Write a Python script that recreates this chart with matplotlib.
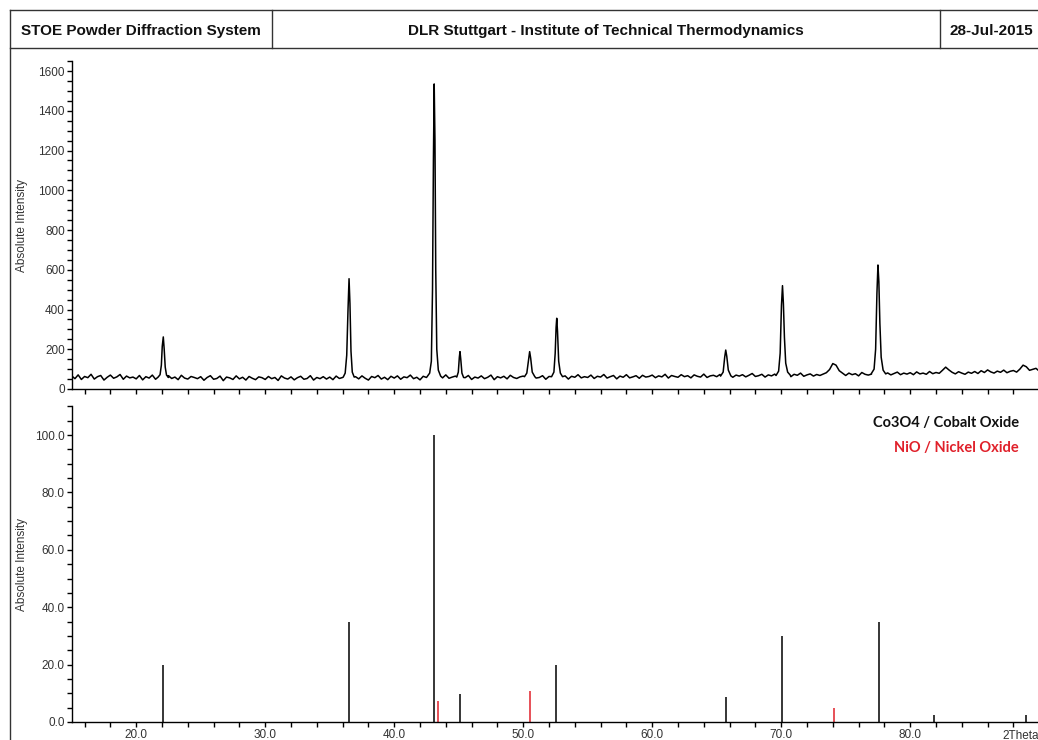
from matplotlib import pyplot as plt
from matplotlib.lines import Line2D
from matplotlib.ticker import MultipleLocator, FormatStrFormatter
import numpy as np

plt.rcParams['font.family'] = ['Liberation Sans', 'DejaVu Sans']

# measured pattern: background read every 0.25 deg from 15 to 91
bg_start, bg_step = 15.0, 0.25
bg_counts = [
    66, 52, 71, 48, 63, 57, 74, 50, 62, 68, 45, 59, 70, 54, 61, 73, 49, 65, 56, 60,  # 15
    51, 68, 46, 62, 55, 70, 49, 58, 64, 44, 67, 53, 60, 47, 69, 55, 50, 63, 58, 52,  # 20
    62, 44, 58, 67, 49, 53, 65, 42, 60, 56, 48, 66, 51, 59, 45, 63, 54, 47, 61, 57,  # 25
    48, 63, 52, 58, 43, 66, 55, 50, 61, 46, 57, 64, 49, 53, 67, 45, 58, 52, 62, 50,  # 30
    60, 47, 65, 53, 58, 69, 48, 56, 62, 51, 66, 54, 45, 63, 57, 68, 50, 59, 47, 64,  # 35
    55, 66, 49, 61, 57, 70, 52, 59, 46, 64, 58, 53, 67, 50, 62, 56, 71, 54, 60, 65,  # 40
    50, 63, 57, 68, 48, 60, 55, 66, 52, 59, 70, 47, 62, 56, 64, 51, 69, 58, 53, 61,  # 45
    65, 52, 60, 71, 55, 58, 67, 49, 63, 57, 70, 54, 61, 66, 50, 64, 59, 72, 56, 62,  # 50
    58, 70, 53, 64, 60, 73, 55, 62, 68, 51, 65, 59, 72, 56, 61, 67, 54, 69, 60, 63,  # 55
    70, 57, 66, 61, 74, 55, 68, 63, 59, 72, 62, 67, 56, 71, 64, 60, 75, 58, 66, 69,  # 60
    62, 73, 60, 68, 76, 59, 70, 65, 72, 61, 69, 78, 63, 67, 74, 60, 71, 66, 75, 64,  # 65
    72, 66, 78, 62, 74, 69, 80, 64, 71, 76, 65, 73, 68, 75, 82, 98, 128, 120, 92, 80,  # 70
    68, 80, 72, 77, 66, 83, 74, 70, 79, 73, 84, 69, 76, 81, 71, 78, 85, 72, 80, 75,  # 75
    82, 72, 86, 76, 80, 74, 88, 77, 83, 79, 94, 110, 96, 84, 76, 87, 80, 74, 85, 79,  # 80
    88, 78, 92, 83, 96, 86, 80, 90, 84, 95, 82, 89, 93, 85, 100, 120, 112, 94, 99, 104,  # 85
    90, 98, 88, 96, 93,  # 90
]

# reflections in the measured pattern (2theta, counts)
peak_2theta = [
    [21.7, 21.85, 21.95, 22.02, 22.1, 22.17, 22.25, 22.35, 22.5],
    [36.05, 36.2, 36.32, 36.42, 36.5, 36.57, 36.65, 36.75, 36.9],
    [42.55, 42.75, 42.88, 42.97, 43.04, 43.1, 43.16, 43.22, 43.3, 43.42, 43.6],
    [44.85, 44.97, 45.05, 45.1, 45.16, 45.25, 45.38],
    [50.1, 50.28, 50.4, 50.5, 50.58, 50.7, 50.9],
    [52.2, 52.38, 52.48, 52.55, 52.6, 52.66, 52.75, 52.88, 53.05],
    [65.3, 65.5, 65.62, 65.7, 65.78, 65.9, 66.1],
    [69.6, 69.8, 69.92, 70.02, 70.1, 70.17, 70.25, 70.35, 70.5, 70.7],
    [77.0, 77.2, 77.32, 77.42, 77.5, 77.57, 77.65, 77.75, 77.9, 78.1],
]
peak_counts = [
    [60, 72, 120, 215, 262, 200, 110, 70, 58],
    [60, 80, 170, 400, 555, 430, 190, 85, 60],
    [62, 80, 140, 500, 1150, 1535, 1250, 600, 200, 95, 65],
    [60, 85, 160, 188, 150, 80, 58],
    [62, 80, 140, 188, 155, 85, 62],
    [62, 85, 180, 310, 356, 290, 140, 80, 62],
    [65, 85, 160, 196, 165, 95, 66],
    [68, 90, 180, 420, 520, 430, 260, 130, 85, 70],
    [75, 100, 200, 480, 624, 540, 330, 160, 95, 76],
]

# reference patterns (relative intensity)
co3o4_2theta = [22.1, 36.5, 43.07, 45.07, 52.58, 65.7, 70.1, 77.55, 81.85, 89.0]
co3o4_int = [19.8, 35.0, 100.0, 9.6, 19.8, 8.6, 30.0, 35.0, 2.4, 2.4]
nio_2theta = [43.36, 50.52, 74.12]
nio_int = [7.3, 10.9, 5.0]

header = ['STOE Powder Diffraction System',
          'DLR Stuttgart - Institute of Technical Thermodynamics',
          '28-Jul-2015']

# build the measured curve
bg_x = bg_start + bg_step * np.arange(len(bg_counts))
bg_y = np.array(bg_counts, dtype=float)
keep = np.ones(len(bg_x), dtype=bool)
for px in peak_2theta:
    keep &= ~((bg_x > px[0]) & (bg_x < px[-1]))
xs = np.concatenate([bg_x[keep]] + [np.array(p) for p in peak_2theta])
ys = np.concatenate([bg_y[keep]] + [np.array(c, dtype=float) for c in peak_counts])
order = np.argsort(xs)
xs, ys = xs[order], ys[order]

W, H = 1038, 740
fig = plt.figure(figsize=(W / 100, H / 100), dpi=100)


def fx(px):
    return px / W


def fy(py):
    return 1 - py / H


x0, x1 = 15, 91
left = fx(71.7)
width = (x1 - x0) * 12.9 / W

ax1 = fig.add_axes([left, fy(389), width, (389 - 61.1) / H])
ax2 = fig.add_axes([left, fy(722), width, (722 - 406.3) / H])

ax1.plot(xs, ys, color='black', lw=1.1)
ax1.set_ylim(0, 1650)
ax1.yaxis.set_major_locator(MultipleLocator(200))
ax1.yaxis.set_minor_locator(MultipleLocator(50))

ax2.vlines(co3o4_2theta, 0, co3o4_int, color='black', lw=1.1)
ax2.vlines(nio_2theta, 0, nio_int, color='#e0202a', lw=1.1)
ax2.set_ylim(0, 110)
ax2.yaxis.set_major_locator(MultipleLocator(20))
ax2.yaxis.set_minor_locator(MultipleLocator(5))
ax2.yaxis.set_major_formatter(FormatStrFormatter('%.1f'))

for ax in (ax1, ax2):
    ax.set_xlim(x0, x1)
    ax.xaxis.set_major_locator(MultipleLocator(10))
    ax.xaxis.set_minor_locator(MultipleLocator(2))
    ax.xaxis.set_major_formatter(FormatStrFormatter('%.1f'))
    for s in ('top', 'right'):
        ax.spines[s].set_visible(False)
    ax.spines['left'].set_linewidth(1.0)
    ax.spines['bottom'].set_linewidth(1.0)
    ax.tick_params(which='both', direction='out', length=3.5, width=1.0,
                   labelsize=8.5, labelcolor='#333333', pad=1.5)
    ax.set_ylabel('Absolute Intensity', fontsize=8.5, color='#333333')
    ax.yaxis.label.set_va('center')
    ax.yaxis.set_label_coords((22 - 71.7) / (width * W), 0.5)

ax1.tick_params(axis='x', labelbottom=False)
ax2.set_xticks([20, 30, 40, 50, 60, 70, 80])
ax2.text(88.6, -0.024, '2Theta', transform=ax2.get_xaxis_transform(),
         ha='center', va='top', fontsize=8.5, color='#333333')

ax2.text(1019, fig.bbox.height - 423, 'Co3O4 / Cobalt Oxide', transform=None,
         ha='right', va='center', fontsize=10.5, fontweight='bold',
         family=['Lato', 'DejaVu Sans'], color='#111111')
ax2.text(1019, fig.bbox.height - 448, 'NiO / Nickel Oxide', transform=None,
         ha='right', va='center', fontsize=10.5, fontweight='bold',
         family=['Lato', 'DejaVu Sans'], color='#e0202a')

# page frame and header boxes
frame = dict(color='#333333', lw=1.0, transform=fig.transFigure)
fig.add_artist(Line2D([fx(10), fx(10)], [fy(10), fy(745)], **frame))
fig.add_artist(Line2D([fx(10), fx(1045)], [fy(10), fy(10)], **frame))
fig.add_artist(Line2D([fx(10), fx(1045)], [fy(48), fy(48)], **frame))
fig.add_artist(Line2D([fx(272), fx(272)], [fy(10), fy(48)], **frame))
fig.add_artist(Line2D([fx(940), fx(940)], [fy(10), fy(48)], **frame))

for text, xc in zip(header, [141, 606, 991]):
    fig.text(fx(xc), fy(31), text, ha='center', va='center',
             fontsize=11, fontweight='bold', color='#111111')

fig.savefig('out.png', dpi=100)
